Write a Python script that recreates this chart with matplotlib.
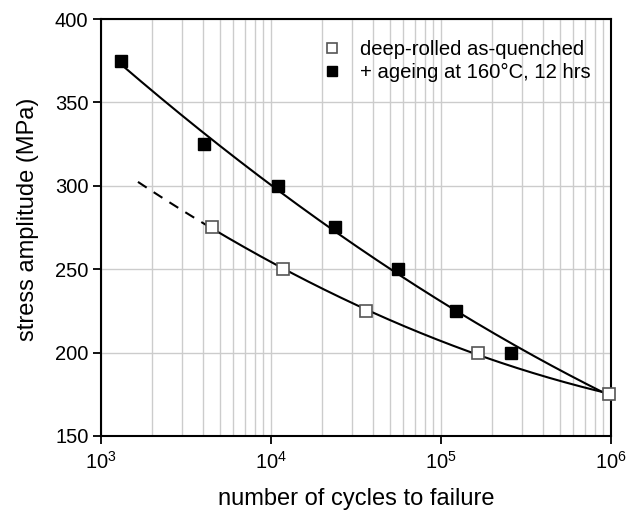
import numpy as np
import matplotlib.pyplot as plt
from matplotlib.ticker import LogLocator, NullFormatter

plt.rcParams['font.family'] = ['Liberation Sans', 'DejaVu Sans']
plt.rcParams['mathtext.fontset'] = 'custom'
plt.rcParams['mathtext.rm'] = 'Liberation Sans'
plt.rcParams['mathtext.it'] = 'Liberation Sans'

# deep-rolled, as-quenched
cycles_aq = [4500, 11700, 36200, 165000, 970000]
stress_aq = [275, 250, 225, 200, 175]

# deep-rolled + aged at 160 C for 12 hrs
cycles_aged = [1312, 4040, 11000, 23800, 55900, 122000, 257000]
stress_aged = [375, 325, 300, 275, 250, 225, 200]

fig = plt.figure(figsize=(6.28, 5.14), dpi=100)
ax = fig.add_axes([0.1608, 0.1518, 0.8122, 0.8112])

# quadratic fits in log(N); the aged curve is tied to the common point at 1e6
fit_aq = np.polyfit(np.log10(cycles_aq), stress_aq, 2)
fit_aged = np.polyfit(np.log10(cycles_aged + [1e6]), stress_aged + [176], 2)

n_solid = np.logspace(np.log10(cycles_aq[0]), 6, 200)
n_dash = np.logspace(np.log10(1650), np.log10(cycles_aq[0]), 50)
n_aged = np.logspace(np.log10(cycles_aged[0]), 6, 200)

ax.plot(n_solid, np.polyval(fit_aq, np.log10(n_solid)), color='black', lw=1.5, zorder=3)
ax.plot(n_dash, np.polyval(fit_aq, np.log10(n_dash)), color='black', lw=1.5,
        ls=(0, (5, 4)), zorder=3)
ax.plot(n_aged, np.polyval(fit_aged, np.log10(n_aged)), color='black', lw=1.5, zorder=3)

ax.plot(cycles_aq, stress_aq, ls='none', marker='s', ms=8, mfc='white',
        mec='#555555', mew=1.2, label='deep-rolled as-quenched', zorder=4, clip_on=False)
ax.plot(cycles_aged, stress_aged, ls='none', marker='s', ms=8, mfc='black',
        mec='black', label='+ ageing at 160°C, 12 hrs', zorder=4, clip_on=False)

ax.set_xscale('log')
ax.set_xlim(1e3, 1e6)
ax.set_ylim(150, 400)
ax.set_yticks([150, 200, 250, 300, 350, 400])
ax.xaxis.set_minor_locator(LogLocator(base=10, subs=np.arange(2, 10)))
ax.xaxis.set_minor_formatter(NullFormatter())

ax.grid(True, which='both', axis='x', color='#cccccc', lw=1.0)
ax.grid(True, which='major', axis='y', color='#cccccc', lw=1.0)
ax.set_axisbelow(True)

for s in ax.spines.values():
    s.set_linewidth(1.5)
ax.tick_params(which='major', direction='out', length=6, width=1.3, labelsize=14.5,
               pad=3)
ax.tick_params(which='minor', length=0)
ax.tick_params(axis='x', pad=5)

ax.set_xlabel('number of cycles to failure', fontsize=17)
ax.xaxis.set_label_coords(0.5, -0.124)
ax.set_ylabel('stress amplitude (MPa)', fontsize=17)
ax.yaxis.set_label_coords(-0.122, 0.52)

ax.legend(loc='upper right', bbox_to_anchor=(0.996, 0.993), frameon=False,
          fontsize=14.6, handletextpad=0.9, borderaxespad=0.5, labelspacing=0.2,
          handlelength=1.0, markerscale=0.95)

fig.savefig('out.png', dpi=100)
